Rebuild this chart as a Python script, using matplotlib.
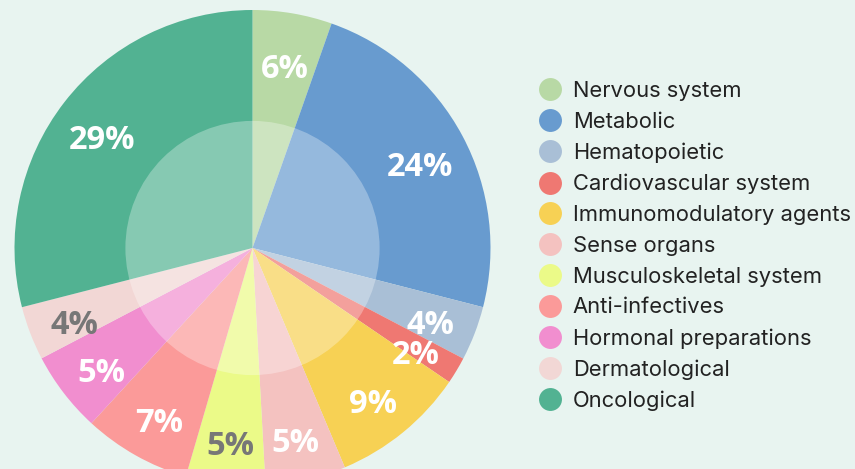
import numpy as np
import matplotlib
matplotlib.use('Agg')
import matplotlib.pyplot as plt
from matplotlib.patches import Circle
from matplotlib.lines import Line2D

# categories and shares, labels as printed on the chart
categories = ['Nervous system', 'Metabolic', 'Hematopoietic', 'Cardiovascular system',
              'Immunomodulatory agents', 'Sense organs', 'Musculoskeletal system',
              'Anti-infectives', 'Hormonal preparations', 'Dermatological', 'Oncological']
shares = [5.39, 23.61, 3.69, 1.83, 9.14, 5.47, 5.39, 7.31, 5.50, 3.67, 29.0]
pct_labels = ['6%', '24%', '4%', '2%', '9%', '5%', '5%', '7%', '5%', '4%', '29%']
colors = ['#b8d9a5', '#689bcf', '#a9bfd6', '#ef7872', '#f7d154', '#f4c2c0',
          '#ebfa88', '#fb9a99', '#f18ecf', '#f2d7d5', '#52b292']
label_colors = ['white', 'white', 'white', 'white', 'white', 'white',
                '#777777', 'white', 'white', '#777777', 'white']

bg = '#e8f4f0'
W, H = 855, 469

fig = plt.figure(figsize=(W / 100, H / 100), dpi=100)
fig.patch.set_facecolor(bg)

# pie axes: centre ~ (252, 248) px from top-left, radius ~238 px
cx, cy, r = 252.5, 248, 238
ax = fig.add_axes([(cx - r) / W, (H - cy - r) / H, 2 * r / W, 2 * r / H])
ax.set_facecolor(bg)

wedges, _ = ax.pie(shares, colors=colors, startangle=90, counterclock=False,
                   radius=1, wedgeprops=dict(linewidth=0))
ax.add_patch(Circle((0, 0), 0.534, facecolor='white', alpha=0.3, linewidth=0))

for w, txt, c in zip(wedges, pct_labels, label_colors):
    mid = np.deg2rad((w.theta1 + w.theta2) / 2)
    ax.text(0.8 * np.cos(mid), 0.8 * np.sin(mid) - 0.04, txt, ha='center', va='center',
            color=c, fontsize=23.5, fontweight='bold', family='Open Sans')

ax.set_xlim(-1, 1)
ax.set_ylim(-1, 1)
ax.set_aspect('auto')
ax.axis('off')

handles = [Line2D([], [], marker='o', linestyle='none', markersize=16.5,
                  markerfacecolor=c, markeredgewidth=0) for c in colors]
fig.legend(handles, categories, loc='upper left', bbox_to_anchor=(539 / W, 1 - 81 / H),
           frameon=False, handlelength=0.98, handletextpad=0.56, labelspacing=0.49,
           borderpad=0, borderaxespad=0,
           prop=dict(family='Inter', size=15.8))
for t in fig.legends[0].get_texts():
    t.set_color('#222222')

fig.savefig('out.png', dpi=100, facecolor=bg)
